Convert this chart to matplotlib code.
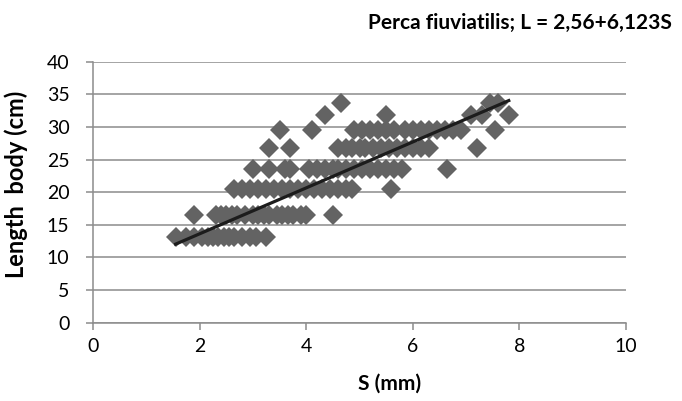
import matplotlib
matplotlib.use("Agg")
import matplotlib.pyplot as plt
import numpy as np

plt.rcParams['font.family'] = ['Lato', 'DejaVu Sans']

# S (mm) and body length (cm)
s_13 = [1.55, 1.75, 1.9, 2.05, 2.15, 2.25, 2.35, 2.45, 2.55, 2.65, 2.8, 2.95, 3.05, 3.25]
s_16 = [1.9, 2.3, 2.4, 2.5, 2.6, 2.7, 2.85, 3.0, 3.1, 3.2, 3.3, 3.45, 3.55, 3.65,
        3.75, 3.9, 4.0, 4.5]
s_20 = [2.65, 2.8, 2.95, 3.1, 3.25, 3.4, 3.55, 3.7, 3.85, 4.0, 4.15, 4.3, 4.45,
        4.6, 4.75, 4.85, 5.6]
s_23 = [3.0, 3.3, 3.6, 3.7, 4.05, 4.2, 4.35, 4.5, 4.6, 4.75, 4.9, 5.05, 5.2, 5.35,
        5.5, 5.65, 5.8, 6.65]
s_26 = [3.3, 3.7, 4.6, 4.75, 4.85, 5.0, 5.1, 5.25, 5.4, 5.55, 5.7, 5.85, 6.0,
        6.15, 6.3, 7.2]
s_29 = [3.5, 4.1, 4.9, 5.05, 5.2, 5.35, 5.5, 5.65, 5.85, 6.0, 6.15, 6.3, 6.45,
        6.6, 6.75, 6.9, 7.55]
s_31 = [4.35, 5.5, 7.1, 7.3, 7.8]
s_33 = [4.65, 7.45, 7.6]

rows = [(13.2, s_13), (16.5, s_16), (20.5, s_20), (23.6, s_23),
        (26.7, s_26), (29.5, s_29), (31.8, s_31), (33.6, s_33)]

S = np.array([s for L, xs in rows for s in xs])
L = np.array([L for L, xs in rows for s in xs])

# trendline as drawn in the chart
trend_slope = 3.52
trend_intercept = 6.58

fig = plt.figure(figsize=(6.82, 4.01), dpi=100)
ax = fig.add_axes([0.1364, 0.1953, 0.7815, 0.6509])

ax.plot(S, L, linestyle='none', marker='D', markersize=10.2,
        color='#636363', markeredgewidth=0, zorder=3)

xl = np.array([S.min(), S.max()])
ax.plot(xl, trend_intercept + trend_slope * xl, color='#1c1c1c', linewidth=2.3, zorder=4)

ax.set_xlim(0, 10)
ax.set_ylim(0, 40)
ax.set_xticks(np.arange(0, 11, 2))
ax.set_yticks(np.arange(0, 41, 5))
ax.grid(axis='y', color='#8c8c8c', linewidth=1.1)
ax.set_axisbelow(True)

for side in ['top', 'right']:
    ax.spines[side].set_visible(False)
for side in ['left', 'bottom']:
    ax.spines[side].set_color('#8c8c8c')
    ax.spines[side].set_linewidth(1.1)

ax.tick_params(axis='both', colors='#8c8c8c', labelcolor='black', labelsize=14,
               length=5, width=1.1)
ax.tick_params(axis='y', pad=12)
ax.tick_params(axis='x', pad=6)

ax.set_xlabel('S (mm)', fontsize=15, fontweight='bold')
ax.set_ylabel('Length  body (cm)', fontsize=17, fontweight='bold')
ax.xaxis.set_label_coords(0.557, -0.195)
ax.yaxis.set_label_coords(-0.122, 0.528)

fig.text(0.985, 0.928, 'Perca fiuviatilis; L = 2,56+6,123S', ha='right', va='baseline',
         fontsize=15, fontweight='bold')

fig.savefig('out.png', dpi=100)
